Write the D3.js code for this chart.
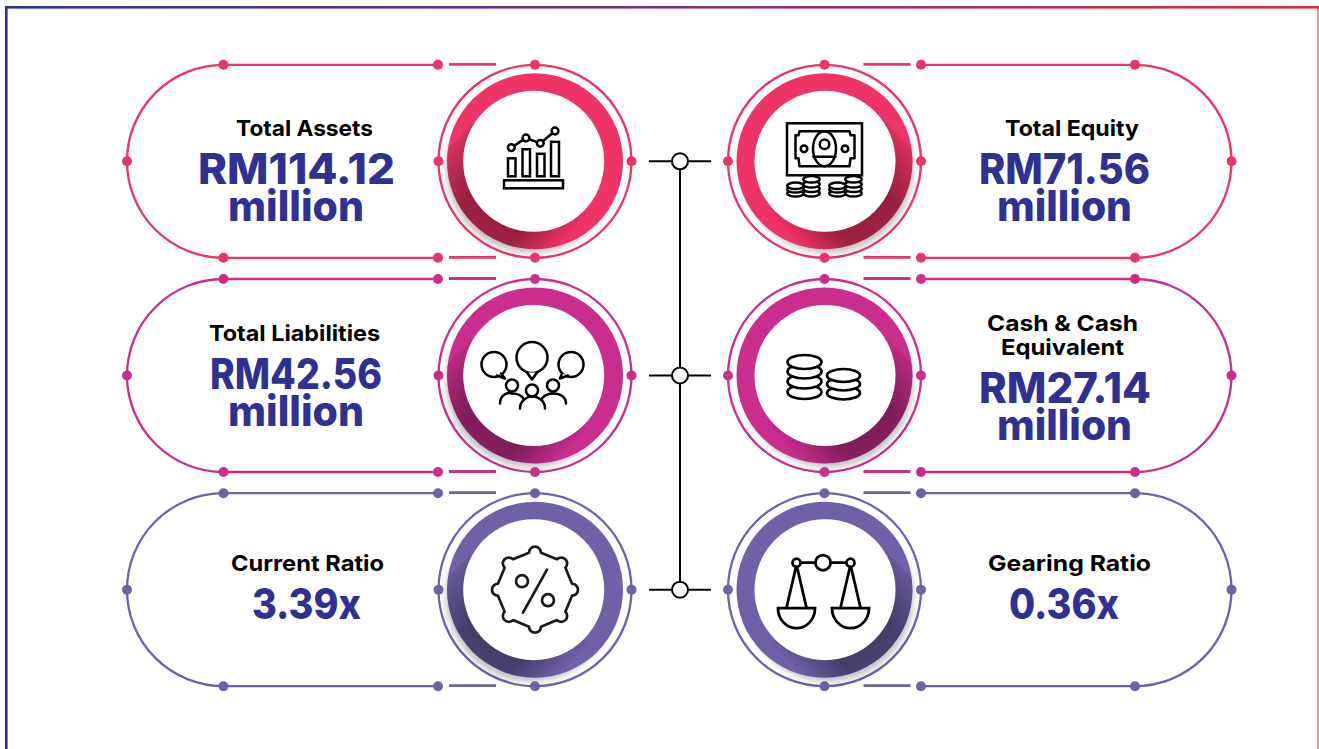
<!DOCTYPE html>
<html lang="en">
<head>
<meta charset="UTF-8">
<title>Financial highlights</title>
<script src="https://d3js.org/d3.v7.min.js"></script>
<style>
  html, body { margin: 0; padding: 0; background: #fff; }
  svg { display: block; }
  text { font-family: Inter, Lato, sans-serif; text-anchor: middle; }
</style>
</head>
<body>
<div id="chart"></div>
<script>
// card contents, left column then right column
var rows = ["top", "middle", "bottom"];
var cols = ["left", "right"];
var cardLabels = [["Total Assets"], ["Total Liabilities"], ["Current Ratio"],
                  ["Total Equity"], ["Cash & Cash", "Equivalent"], ["Gearing Ratio"]];
var cardValues = ["RM114.12", "RM42.56", "3.39x", "RM71.56", "RM27.14", "0.36x"];
var cardUnits = ["million", "million", "", "million", "million", ""];
var cardIcons = ["chart", "people", "percent", "money", "coins", "scale"];
var rowColors = ["#ee3365", "#c92e8f", "#6f60a8"];

// text centre x, measured width and baseline of each line, per card
var labelX = [304.5, 294.5, 307.5, 1072, 1062.5, 1069.5];
var labelW = [[137], [171], [153], [134], [151, 123], [163]];
var labelY = [[136], [341], [571], [136], [331, 355], [571]];
var valueX = [296.5, 296, 306.5, 1064.5, 1065, 1064];
var valueW = [197, 172, 109, 171, 172, 110];
var valueY = [184, 389, 619, 184, 403, 619];
var unitX = [296, 296, 0, 1064.5, 1064.5, 0];
var unitW = [136, 136, 0, 135, 135, 0];
var unitY = [221, 426, 0, 221, 440, 0];

var width = 1319, height = 749;
var outerR = 96.5, ringR = 88, whiteR = 70.5;

var x = d3.scalePoint().domain(cols).range([535, 824.5]);
var y = d3.scalePoint().domain(rows).range([161.3, 589.7]);

var svg = d3.select("#chart").append("svg")
    .attr("width", width)
    .attr("height", height);

var defs = svg.append("defs");

var frameGrad = defs.append("linearGradient").attr("id", "frameGrad");
frameGrad.append("stop").attr("offset", "0").attr("stop-color", "#2e3192");
frameGrad.append("stop").attr("offset", "0.5").attr("stop-color", "#7b2d82");
frameGrad.append("stop").attr("offset", "1").attr("stop-color", "#ef2636");

// long shadow of the white disc, fades at both sides and a little with distance
var bandGrad = defs.append("linearGradient").attr("id", "bandGrad")
    .attr("x1", 0).attr("y1", 0).attr("x2", 0).attr("y2", 1);
[[0.06, 0], [0.3, 0.38], [0.68, 0.42], [1, 0.08]].forEach(function (s) {
    bandGrad.append("stop").attr("offset", s[0]).attr("stop-color", "#000").attr("stop-opacity", s[1]);
});

var fadeGrad = defs.append("linearGradient").attr("id", "fadeGrad");
fadeGrad.append("stop").attr("offset", "0").attr("stop-color", "#fff");
fadeGrad.append("stop").attr("offset", "0.55").attr("stop-color", "#fff");
fadeGrad.append("stop").attr("offset", "1").attr("stop-color", "#aaa");
var bandMask = defs.append("mask").attr("id", "bandMask")
    .attr("maskUnits", "userSpaceOnUse")
    .attr("x", -10).attr("y", -110).attr("width", 120).attr("height", 200);
bandMask.append("rect")
    .attr("x", -10).attr("y", -110).attr("width", 120).attr("height", 200)
    .attr("fill", "url(#fadeGrad)");

defs.append("filter").attr("id", "soft")
    .attr("x", "-20%").attr("y", "-20%").attr("width", "140%").attr("height", "140%")
  .append("feGaussianBlur").attr("stdDeviation", 3);

defs.append("clipPath").attr("id", "ringClip")
  .append("circle").attr("r", ringR);

// frame
svg.append("rect").attr("x", 5).attr("y", 6).attr("width", width - 5).attr("height", 2.6)
    .attr("fill", "url(#frameGrad)");
svg.append("rect").attr("x", 5).attr("y", 6).attr("width", 2.6).attr("height", height - 6)
    .attr("fill", "#2e3192");
svg.append("rect").attr("x", width - 1.5).attr("y", 6).attr("width", 1).attr("height", height - 6)
    .attr("fill", "#ef2636");

// connector between the two columns
var connectorX = 680;
var connector = svg.append("g").attr("stroke", "#000").attr("stroke-width", 2);
connector.append("line")
    .attr("x1", connectorX).attr("x2", connectorX)
    .attr("y1", y(rows[0])).attr("y2", y(rows[2]));
connector.selectAll("line.stub").data(rows).enter().append("line")
    .attr("class", "stub")
    .attr("x1", connectorX - 31).attr("x2", connectorX + 31)
    .attr("y1", function (d) { return y(d); })
    .attr("y2", function (d) { return y(d); });
connector.selectAll("circle").data(rows).enter().append("circle")
    .attr("cx", connectorX)
    .attr("cy", function (d) { return y(d); })
    .attr("r", 8)
    .attr("fill", "#fff");

function drawIcon(g, name) {
    g.attr("fill", "none").attr("stroke", "#000").attr("stroke-width", 2.5)
        .attr("stroke-linecap", "round").attr("stroke-linejoin", "round");
    if (name == "chart") {
        g.attr("stroke-linejoin", "miter");
        g.append("rect").attr("x", -31).attr("y", 19).attr("width", 59).attr("height", 8);
        [[-27, -3, 7.5, 18], [-12.5, -12, 7.5, 27], [2, -7.5, 7.5, 22.5], [16, -19.5, 8, 34.5]].forEach(function (b) {
            g.append("rect").attr("x", b[0]).attr("y", b[1]).attr("width", b[2]).attr("height", b[3]);
        });
        var pts = [[-23.7, -13.7], [-9, -23.3], [5.3, -18], [20, -30.3]];
        g.append("path").attr("d", d3.line()(pts));
        pts.forEach(function (p) {
            g.append("circle").attr("cx", p[0]).attr("cy", p[1]).attr("r", 3.4).attr("fill", "#fff");
        });
    } else if (name == "money") {
        g.append("rect").attr("x", -37.5).attr("y", -38).attr("width", 75).attr("height", 52).attr("stroke-linejoin", "miter");
        g.append("path").attr("d", "M-25,-30H25L26,-26H30V-3H26L25,5H-25L-26,-3H-29V-26H-26Z");
        g.append("ellipse").attr("cy", -12.5).attr("rx", 11.5).attr("ry", 17.5);
        g.append("circle").attr("cy", -17).attr("r", 4.8);
        g.append("path").attr("d", "M-11,-4.5H11");
        g.append("circle").attr("cx", -20.5).attr("cy", -12.5).attr("r", 3.3);
        g.append("circle").attr("cx", 20.5).attr("cy", -12.5).attr("r", 3.3);
        [[-29, [32, 28, 24.5]], [-13, [32, 27.5, 23, 18]], [13, [32, 28, 24.5]], [29, [32, 27.5, 23, 18]]].forEach(function (s) {
            s[1].forEach(function (cy) {
                g.append("ellipse").attr("cx", s[0]).attr("cy", cy).attr("rx", 8.3).attr("ry", 3.2).attr("fill", "#fff");
            });
        });
    } else if (name == "people") {
        [[-41, -11, 12.5, "M-34,-2L-30,3L-38,0"], [-3, -18, 15.5, "M-8,-3L-3,4L2,-3"], [36, -11, 12.5, "M27,-2L25,3L33,0"]].forEach(function (b) {
            g.append("circle").attr("cx", b[0]).attr("cy", b[1]).attr("r", b[2]);
            g.append("path").attr("d", b[3]).attr("fill", "#fff");
        });
        [[-23, 10, 6], [-3, 15, 6], [18, 10, 6]].forEach(function (h) {
            g.append("circle").attr("cx", h[0]).attr("cy", h[1]).attr("r", h[2]);
        });
        g.append("path").attr("d", "M-35,28C-35,18,-26,17,-23,18C-18,18,-13,20,-11,24");
        g.append("path").attr("d", "M-15,33C-15,24,-7,21,-3,21C2,21,10,24,10,33");
        g.append("path").attr("d", "M7,23C10,19,14,18,18,18C26,18,31,22,31,28");
    } else if (name == "percent") {
        g.attr("stroke", "#1a1a1a").attr("stroke-width", 2.7);
        var gear = "";
        d3.range(8).forEach(function (i) {
            var a = i * Math.PI / 4 - Math.PI / 2;
            var a0 = a - 0.16, a1 = a + 0.16, R = 37.5;
            gear += (i ? "L" : "M") + (R * Math.cos(a0)) + "," + (R * Math.sin(a0));
            gear += "A5.6,5.6 0 1 1 " + (R * Math.cos(a1)) + "," + (R * Math.sin(a1));
        });
        g.append("path").attr("d", gear + "Z");
        g.append("circle").attr("cx", -13).attr("cy", -8.5).attr("r", 6);
        g.append("circle").attr("cx", 13).attr("cy", 10.5).attr("r", 6);
        g.append("path").attr("d", "M12,-20L-12,23");
    } else if (name == "coins") {
        // the two coin stacks of the cash card
        g.attr("stroke-width", 2.7);
        [[-20, 17, 7, [16.5, 6, -4, -13.5]], [19, 16.5, 6.5, [17.5, 8.5, 0]]].forEach(function (s) {
            s[3].forEach(function (cy) {
                g.append("ellipse").attr("cx", s[0]).attr("cy", cy).attr("rx", s[1]).attr("ry", s[2]).attr("fill", "#fff");
            });
        });
    } else if (name == "scale") {
        g.attr("stroke-width", 2.8).attr("stroke-linejoin", "miter");
        g.append("path").attr("d", "M-28,-27H26");
        g.append("circle").attr("cx", -1.5).attr("cy", -27).attr("r", 7.6).attr("fill", "#fff");
        [-28, 26].forEach(function (sx) {
            g.append("path").attr("d", "M" + sx + ",-25L" + (sx - 10) + ",18M" + sx + ",-25L" + (sx + 10) + ",18");
            g.append("circle").attr("cx", sx).attr("cy", -27).attr("r", 4).attr("fill", "#fff");
            g.append("path").attr("d", "M" + (sx - 18.5) + ",18.5H" + (sx + 18.5) + "A18.5,20 0 0 1 " + (sx - 18.5) + ",18.5Z");
        });
    }
}

function drawBadge(side, row, i) {
    var color = rowColors[rows.indexOf(row)];
    var dir = side == "left" ? -1 : 1;
    var g = svg.append("g")
        .attr("transform", "translate(" + x(side) + "," + y(row) + ")");

    // pill outline, opens towards the badge
    var pill = g.append("g").attr("fill", color).attr("stroke", color);
    var near = side == "left" ? -97 : 96.5;
    var far = side == "left" ? -311.5 : 310.5;
    pill.append("path")
        .attr("fill", "none").attr("stroke-width", 2.3)
        .attr("d", "M" + near + "," + (-outerR) + "H" + far
            + "A" + outerR + "," + outerR + " 0 0 " + (side == "left" ? 0 : 1) + " " + far + "," + outerR
            + "H" + near);
    [-outerR - 0.5, outerR - 0.5].forEach(function (yy) {
        pill.append("line").attr("stroke-width", 2.8)
            .attr("x1", 39 * dir).attr("x2", 86 * dir)
            .attr("y1", yy).attr("y2", yy);
    });

    // outer thin ring
    g.append("circle").attr("r", outerR).attr("fill", "none").attr("stroke", color).attr("stroke-width", 2.3);

    // grey soft shadow under the thick ring
    g.append("circle").attr("cx", 4 * dir).attr("cy", 7).attr("r", ringR - 3)
        .attr("fill", "#000").attr("opacity", 0.24).attr("filter", "url(#soft)");
    g.append("circle").attr("r", ringR).attr("fill", color);

    // long shadow clipped to the thick ring
    g.append("g").attr("clip-path", "url(#ringClip)")
      .append("g").attr("transform", (side == "left" ? "" : "scale(-1,1) ") + "rotate(135)")
        .attr("mask", "url(#bandMask)")
      .append("rect")
        .attr("x", 0).attr("y", -whiteR - 16).attr("width", 100).attr("height", whiteR * 2 + 16)
        .attr("fill", "url(#bandGrad)");

    g.append("circle").attr("cx", side == "left" ? -1.3 : 0.5).attr("r", whiteR).attr("fill", "#fff");

    drawIcon(g.append("g"), cardIcons[i]);

    // dots on the ring and the pill
    var dots = [[0, -outerR], [0, outerR], [-outerR, 0], [outerR, 0],
        [near, -outerR], [near, outerR],
        [far, -outerR], [far, outerR], [far + outerR * dir, 0]];
    dots.forEach(function (d) {
        g.append("circle").attr("cx", d[0]).attr("cy", d[1]).attr("r", 5).attr("fill", color);
    });
}

function drawText(i) {
    var g = svg.append("g");

    cardLabels[i].forEach(function (t, k) {
        g.append("text")
            .attr("x", labelX[i]).attr("y", labelY[i][k])
            .attr("font-size", 22).attr("font-weight", 700).attr("fill", "#000")
            .attr("textLength", labelW[i][k]).attr("lengthAdjust", "spacingAndGlyphs")
            .text(t);
    });
    g.append("text")
        .attr("x", valueX[i]).attr("y", valueY[i])
        .attr("font-size", 42).attr("font-weight", 800).attr("fill", "#2e3192")
        .attr("textLength", valueW[i]).attr("lengthAdjust", "spacingAndGlyphs")
        .text(cardValues[i]);
    if (cardUnits[i]) {
        g.append("text")
            .attr("x", unitX[i]).attr("y", unitY[i])
            .attr("font-size", 42).attr("font-weight", 800).attr("fill", "#2e3192")
            .attr("textLength", unitW[i]).attr("lengthAdjust", "spacingAndGlyphs")
            .text(cardUnits[i]);
    }
}

cols.forEach(function (side, c) {
    rows.forEach(function (row, r) {
        var i = c * rows.length + r;
        drawBadge(side, row, i);
        drawText(i);
    });
});
</script>
</body>
</html>
